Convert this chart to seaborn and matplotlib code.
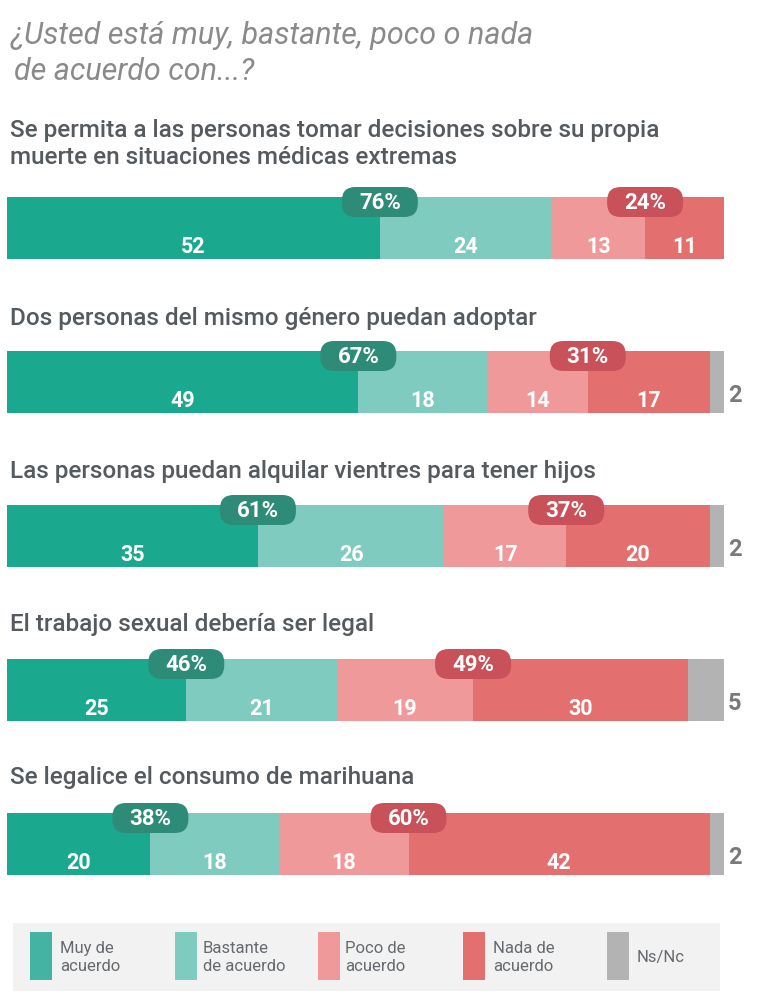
import matplotlib
matplotlib.use("Agg")
import matplotlib.pyplot as plt
from matplotlib.patches import FancyBboxPatch, Rectangle
import seaborn as sns
import pandas as pd

# data
questions = [
    "Se permita a las personas tomar decisiones sobre su propia\nmuerte en situaciones médicas extremas",
    "Dos personas del mismo género puedan adoptar",
    "Las personas puedan alquilar vientres para tener hijos",
    "El trabajo sexual debería ser legal",
    "Se legalice el consumo de marihuana",
]
muy = [52, 49, 35, 25, 20]
bastante = [24, 18, 26, 21, 18]
poco = [13, 14, 17, 19, 18]
nada = [11, 17, 20, 30, 42]
nsnc = [0, 2, 2, 5, 2]
total_acuerdo = [76, 67, 61, 46, 38]
total_desacuerdo = [24, 31, 37, 49, 60]

categories = ["Muy de\nacuerdo", "Bastante\nde acuerdo", "Poco de\nacuerdo", "Nada de\nacuerdo", "Ns/Nc"]
colors = ["#1aa88f", "#80cbbf", "#f0999b", "#e46f6f", "#b3b3b3"]
legend_colors = ["#45b3a3", "#80cbbf", "#f0999b", "#e46f6f", "#b3b3b3"]
pill_green = "#2e8b78"
pill_red = "#c8515a"

W, H = 780, 995


def fx(x):
    return x / W


def fy(y):
    return 1 - y / H


sns.set_theme(style="white")
plt.rcParams["font.family"] = ["Roboto", "DejaVu Sans"]

fig = plt.figure(figsize=(W / 100, H / 100), dpi=100)
fig.patch.set_facecolor("white")

# axis: 0..100 -> px 7..724, row i centered at 229 + 154*i
ax = fig.add_axes([fx(7), fy(922), 717 / W, 770 / H])

series = [muy, bastante, poco, nada, nsnc]
df = pd.DataFrame({"q": [f"q{i}" for i in range(len(questions))]})
cum = [0] * len(questions)
for k, s in enumerate(series):
    cum = [c + v for c, v in zip(cum, s)]
    df[f"c{k}"] = cum

# stacked bars: draw cumulative widths from the longest down
for k in reversed(range(len(series))):
    sns.barplot(data=df, x=f"c{k}", y="q", orient="h", color=colors[k],
                width=0.40, linewidth=0, saturation=1, ax=ax)

ax.set_xlim(0, 100)
ax.set_ylim(4.5, -0.5)
ax.axis("off")

# segment values
for i in range(len(questions)):
    left = 0
    for k in range(4):
        v = series[k][i]
        ax.text(left + v / 2, i + 0.12, str(v), ha="center", va="center",
                fontsize=15.5, fontweight="bold", color="white")
        left += v
    if nsnc[i] > 0:
        ax.text(101.5, i + 0.08, str(nsnc[i]), ha="center", va="center",
                fontsize=17, fontweight="bold", color="#7a7a7a", clip_on=False)

# pills with totals
xpp = 100 / 717
ypp = 1 / 154
pw, ph = 76 * xpp, 30 * ypp
aspect = ypp / xpp
for i in range(len(questions)):
    for cx, val, pc in [(muy[i], total_acuerdo[i], pill_green),
                        (muy[i] + bastante[i] + poco[i], total_desacuerdo[i], pill_red)]:
        cy = i - 26 * ypp
        p = FancyBboxPatch((cx - pw / 2, cy - ph / 2), pw, ph,
                           boxstyle="round,pad=0,rounding_size=1.9",
                           mutation_aspect=aspect, fc=pc, ec="none",
                           clip_on=False, zorder=5)
        ax.add_patch(p)
        ax.text(cx, cy, f"{val}%", ha="center", va="center", fontsize=16,
                fontweight="bold", color="white", zorder=6)

# title
fig.text(fx(11), fy(35), "¿Usted está muy, bastante, poco o nada", fontsize=22,
         style="italic", color="#8a8a8a", va="center")
fig.text(fx(14), fy(72), "de acuerdo con...?", fontsize=22,
         style="italic", color="#8a8a8a", va="center")

# question labels
q_y = [130, 318, 472, 625, 778]
for q, y in zip(questions, q_y):
    lines = q.split("\n")
    for j, line in enumerate(lines):
        fig.text(fx(10), fy(y + 28 * j), line, fontsize=17.5, fontweight="medium",
                 color="#555a5e", va="center")

# legend
fig.patches.append(Rectangle((fx(13), fy(992)), 707 / W, 68 / H,
                             transform=fig.transFigure, fc="#f2f2f2", ec="none"))
sw_x = [30, 175, 318, 463, 607]
lab_x = [60, 203, 345, 493, 637]
for k in range(5):
    fig.patches.append(Rectangle((fx(sw_x[k]), fy(981)), 22 / W, 48 / H,
                                 transform=fig.transFigure, fc=legend_colors[k], ec="none"))
    fig.text(fx(lab_x[k]), fy(958), categories[k], fontsize=12, color="#666a6e",
             va="center", linespacing=1.25)

fig.savefig("out.png", dpi=100)
